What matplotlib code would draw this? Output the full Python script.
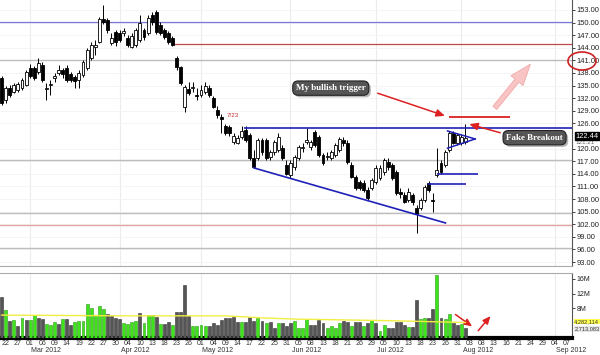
import numpy as np
import pandas as pd
import matplotlib
matplotlib.use('Agg')
import matplotlib.pyplot as plt
import matplotlib.transforms as mtransforms
import matplotlib.patheffects as pe
from matplotlib.patches import Ellipse, FancyArrowPatch

# ---------------- data ----------------
holidays = ['2012-04-06', '2012-05-28', '2012-07-04', '2012-09-03']
start_date, end_date = '2012-02-21', '2012-09-07'

opens = [136.8, 131.6, 134.4, 133.5, 134.0, 134.4, 135.1, 139.2, 139.2, 138.2,
         139.9, 134.2, 135.1, 136.8, 138.0, 138.7, 139.2, 137.8, 137.0, 136.3,
         137.5, 139.2, 141.6, 144.2, 145.4, 150.9, 150.6, 145.1, 147.8, 147.5,
         147.5, 146.3, 144.2, 144.7, 145.9, 148.2, 147.5, 151.8, 152.5, 149.4,
         148.2, 147.5, 146.3, 141.6, 139.4, 129.9, 134.2, 134.4, 132.8, 132.8,
         133.5, 134.4, 132.1, 129.2, 127.5, 125.4, 125.1, 121.6, 121.3, 122.8,
         124.4, 123.2, 117.8, 117.8, 122.1, 122.1, 118.0, 119.2, 119.7, 120.1,
         116.1, 113.7, 115.6, 117.8, 120.1, 121.6, 120.4, 124.0, 122.8, 118.5,
         118.0, 117.8, 118.5, 119.7, 122.1, 121.3, 116.1, 113.2, 112.0, 111.8,
         110.1, 110.6, 112.0, 113.0, 114.4, 116.8, 116.1, 114.4, 109.7, 109.0,
         107.8, 109.0, 105.9, 105.9, 107.8, 111.8, 107.8, 113.7, 116.6, 116.1,
         119.7, 123.7, 121.3, 121.3, 121.6]
highs = [137.3, 134.9, 135.1, 135.6, 135.9, 136.8, 138.7, 140.1, 139.7, 141.6,
         140.6, 135.6, 136.3, 138.0, 139.9, 139.2, 139.9, 138.2, 137.5, 138.7,
         141.1, 144.0, 145.4, 145.9, 151.3, 154.2, 151.1, 147.5, 148.2, 148.2,
         148.7, 147.0, 147.5, 148.7, 151.8, 148.7, 151.8, 152.5, 153.0, 150.1,
         148.7, 148.0, 146.8, 142.1, 139.7, 135.1, 135.9, 135.9, 134.4, 135.1,
         135.9, 135.1, 132.5, 130.1, 128.2, 125.9, 125.6, 123.7, 123.2, 125.4,
         125.4, 123.7, 119.7, 122.5, 122.5, 122.5, 119.7, 122.1, 123.7, 120.9,
         117.3, 117.3, 118.5, 120.9, 121.3, 124.9, 122.1, 124.4, 123.2, 119.0,
         119.2, 119.7, 121.3, 122.8, 122.8, 122.1, 116.8, 113.7, 112.5, 112.5,
         110.9, 113.0, 116.1, 116.1, 117.8, 117.8, 116.6, 114.9, 110.6, 109.7,
         110.6, 109.4, 106.6, 108.2, 111.3, 112.3, 109.4, 120.1, 117.3, 119.7,
         124.2, 124.2, 123.7, 123.5, 125.8]
lows = [130.4, 130.9, 132.3, 133.2, 133.5, 134.0, 134.9, 136.8, 136.3, 137.8,
        135.9, 131.6, 132.8, 135.9, 137.5, 136.8, 135.9, 135.9, 134.4, 134.4,
        137.0, 138.7, 141.1, 142.3, 145.1, 149.7, 147.5, 144.7, 144.4, 145.4,
        146.8, 144.2, 144.0, 144.2, 145.4, 145.9, 147.0, 149.4, 147.3, 147.0,
        146.1, 144.9, 144.4, 138.7, 135.1, 128.7, 132.8, 133.5, 131.6, 132.3,
        133.0, 132.3, 129.7, 127.3, 123.7, 123.2, 123.0, 121.1, 121.1, 122.3,
        121.6, 117.3, 115.4, 117.3, 118.5, 117.3, 117.3, 118.5, 119.2, 117.3,
        113.7, 113.0, 114.9, 117.3, 119.2, 121.1, 119.7, 120.4, 118.0, 116.1,
        117.3, 117.3, 118.0, 119.2, 120.6, 116.3, 113.0, 110.1, 110.1, 109.7,
        107.8, 110.1, 111.6, 112.5, 113.7, 114.9, 112.5, 109.0, 108.2, 107.1,
        107.3, 106.6, 99.9, 105.4, 107.3, 109.7, 104.9, 113.3, 113.9, 115.6,
        119.2, 121.1, 120.9, 120.9, 121.1]
closes = [130.9, 134.4, 132.8, 135.1, 135.4, 136.3, 138.2, 137.3, 136.8, 140.4,
          136.3, 134.4, 135.4, 137.3, 138.7, 137.8, 136.3, 136.3, 136.1, 138.0,
          140.6, 143.5, 144.7, 144.7, 150.9, 150.1, 148.2, 146.3, 145.4, 145.9,
          148.0, 144.7, 146.8, 148.2, 149.9, 146.6, 151.1, 150.1, 147.8, 147.5,
          146.6, 145.4, 144.7, 139.4, 135.6, 134.7, 133.2, 134.6, 132.5, 134.0,
          134.9, 132.8, 129.9, 128.0, 127.1, 123.7, 123.7, 123.0, 122.5, 124.2,
          122.1, 117.8, 115.6, 122.1, 119.2, 117.8, 119.2, 121.6, 122.8, 117.8,
          114.0, 116.6, 118.0, 120.4, 120.4, 122.1, 121.6, 120.9, 118.5, 116.6,
          118.2, 119.2, 120.9, 122.3, 121.3, 116.8, 113.2, 110.6, 110.6, 110.1,
          108.2, 112.5, 115.4, 115.4, 117.3, 115.6, 113.0, 109.4, 109.2, 107.3,
          109.7, 107.3, 104.4, 107.8, 110.9, 110.1, 107.5, 114.9, 114.4, 119.2,
          123.7, 121.3, 123.2, 122.8, 122.44]

volume_m = [11.0, 7.6, 4.6, 4.9, 3.2, 5.4, 4.9, 4.9, 6.2, 5.4,
            5.1, 3.8, 3.5, 4.3, 3.8, 5.1, 5.1, 3.5, 4.3, 4.6,
            4.6, 9.2, 8.1, 6.2, 8.6, 7.8, 6.5, 5.9, 5.4, 5.1,
            4.1, 3.8, 4.3, 4.6, 6.8, 4.1, 6.2, 6.2, 5.7, 3.8,
            3.8, 4.3, 3.5, 7.0, 7.0, 14.3, 5.9, 3.2, 3.2, 3.5,
            3.2, 3.2, 4.1, 3.5, 4.9, 5.4, 5.4, 5.7, 4.3, 4.3,
            4.3, 5.7, 4.6, 5.4, 4.6, 4.1, 4.3, 2.7, 4.1, 4.1,
            3.2, 4.1, 4.6, 2.7, 2.7, 5.1, 3.5, 3.5, 4.9, 4.1,
            2.7, 3.2, 2.7, 4.1, 4.6, 4.3, 3.2, 4.3, 4.3, 3.2,
            4.1, 4.9, 4.1, 1.9, 3.5, 2.7, 2.7, 4.3, 4.3, 3.5,
            3.0, 3.0, 10.3, 5.1, 5.4, 5.4, 7.8, 17.0, 5.4, 5.1,
            6.5, 4.1, 3.5, 3.8, 2.7]
volume_up = [0, 1, 0, 1, 0, 1, 0, 1, 1, 0,
             0, 1, 1, 1, 0, 1, 0, 0, 1, 1,
             1, 1, 1, 1, 1, 1, 0, 0, 0, 0,
             1, 1, 1, 1, 0, 1, 1, 1, 0, 1,
             0, 0, 1, 0, 0, 0, 0, 1, 1, 1,
             1, 0, 0, 0, 0, 0, 0, 0, 0, 1,
             0, 0, 0, 1, 0, 1, 0, 0, 1, 0,
             0, 0, 1, 1, 1, 1, 0, 0, 0, 0,
             1, 1, 1, 1, 0, 0, 1, 0, 0, 1,
             0, 1, 0, 1, 1, 0, 0, 0, 0, 0,
             1, 0, 0, 1, 1, 0, 0, 1, 0, 1,
             1, 0, 0, 1, 0]
vol_ma_idx = [0, 30, 55, 65, 73, 95, 114]
vol_ma = [6.2, 6.0, 6.0, 5.4, 5.1, 4.7, 4.2]

price_ticks = [153, 150, 147, 144, 141, 138, 135, 132, 129, 126, 120, 117, 114, 111, 108, 105, 102, 99, 96, 93]
tick_dates = ['2012-02-22', '2012-02-27', '2012-03-01', '2012-03-06', '2012-03-09', '2012-03-14',
              '2012-03-19', '2012-03-22', '2012-03-27', '2012-03-30', '2012-04-04', '2012-04-10',
              '2012-04-13', '2012-04-18', '2012-04-23', '2012-04-26', '2012-05-01', '2012-05-04',
              '2012-05-09', '2012-05-14', '2012-05-17', '2012-05-22', '2012-05-25', '2012-05-31',
              '2012-06-05', '2012-06-08', '2012-06-13', '2012-06-18', '2012-06-21', '2012-06-26',
              '2012-06-29', '2012-07-05', '2012-07-10', '2012-07-13', '2012-07-18', '2012-07-23',
              '2012-07-26', '2012-07-31', '2012-08-03', '2012-08-08', '2012-08-13', '2012-08-16',
              '2012-08-21', '2012-08-24', '2012-08-29', '2012-09-04', '2012-09-07']
month_labels = ['Mar 2012', 'Apr 2012', 'May 2012', 'Jun 2012', 'Jul 2012', 'Aug 2012', 'Sep 2012']

# chart annotations (levels / trendlines drawn by the author)
level_blue = 150.1
level_red_high = 144.9
level_red_high_start = 42.4
gray_levels = [141.1, 117.3, 104.6, 96.3]
level_red_low = 101.7
resistance = 124.9
resistance_start = 59.6
trend_x, trend_y = [62.0, 109.1], [115.4, 102.3]
support1 = (111.6, 104.9, 114.2)
support2 = (113.9, 106.9, 117.2)
pennant_x = [109.6, 116.4]
pennant_top = [124.2, 122.3]
pennant_bot = [120.1, 122.3]
trigger_level = (127.5, 110.0, 125.0)
last_price = 122.44
other_price = 121.21
vol_ma_last = '4,282,114'
vol_last = '2,713,083'

# ---------------- figure ----------------
W, H = 600, 355
fig = plt.figure(figsize=(W / 100, H / 100), dpi=100)


def fbox(x0, y0, x1, y1):
    return [x0 / W, 1 - y1 / H, (x1 - x0) / W, (y1 - y0) / H]


ax = fig.add_axes(fbox(0, 0, 572, 266))
axv = fig.add_axes(fbox(0, 273, 572, 338))

cal = pd.bdate_range(start_date, end_date, freq='C', holidays=holidays)
pos = {d.strftime('%Y-%m-%d'): i for i, d in enumerate(cal)}
n = len(closes)
idx = np.arange(n)
xlim = (-0.4, 140.2)

o, h, l, c = map(np.array, (opens, highs, lows, closes))

# month start gridlines
month_starts = []
for m in range(3, 10):
    first = [i for i, d in enumerate(cal) if d.month == m][0]
    month_starts.append(first)
for a in (ax, axv):
    for ms in month_starts:
        a.axvline(ms, color='#ececec', lw=0.8, zorder=0)
for t in price_ticks:
    ax.axhline(t, color='#f3f3f3', lw=0.6, zorder=0)

# horizontal levels
ax.axhline(level_blue, color='#7878d8', lw=0.9, zorder=1)
ax.hlines(level_red_high, level_red_high_start, xlim[1], color='#c04848', lw=0.9, zorder=1)
for g in gray_levels:
    ax.axhline(g, color='#bdbdbd', lw=1.0, zorder=1)
ax.axhline(level_red_low, color='#e3a6a6', lw=1.0, zorder=1)

# candles
up = c >= o
ax.vlines(idx, l, h, color='black', lw=0.7, zorder=3)
body = np.maximum(np.abs(c - o), 0.2)
ax.bar(idx, body, bottom=np.minimum(o, c), width=0.72,
       color=np.where(up, 'white', 'black'), edgecolor='black', lw=0.6, zorder=4)

# pattern lines
blue = '#2020b8'
ax.hlines(resistance, resistance_start, xlim[1], color=blue, lw=1.2, zorder=5)
ax.plot(trend_x, trend_y, color=blue, lw=1.2, zorder=5)
ax.hlines(support1[0], support1[1], support1[2], color=blue, lw=1.2, zorder=5)
ax.hlines(support2[0], support2[1], support2[2], color=blue, lw=1.2, zorder=5)
ax.plot(pennant_x, pennant_top, color=blue, lw=1.1, zorder=5)
ax.plot(pennant_x, pennant_bot, color=blue, lw=1.1, zorder=5)
ax.hlines(trigger_level[0], trigger_level[1], trigger_level[2], color='#dd2020', lw=1.3, zorder=5)

ax.set_xlim(*xlim)
ax.set_ylim(92.05, 155.38)
ax.set_xticks([])
ax.yaxis.tick_right()
ax.set_yticks(price_ticks)
ax.set_yticklabels(['%.2f' % t for t in price_ticks])
ax.tick_params(axis='y', labelsize=5.4, pad=1.5, length=2, colors='#222222', width=0.6)
for lab in ax.get_yticklabels():
    lab.set_fontfamily('Liberation Sans')
for s in ('top', 'left'):
    ax.spines[s].set_visible(False)
ax.spines['bottom'].set_color('#aaaaaa')
ax.spines['right'].set_color('#555555')
ax.spines['right'].set_linewidth(0.8)

# right side value flags
tr = mtransforms.blended_transform_factory(ax.transAxes, ax.transData)
ax.text(1.006, 121.5, '%.2f' % other_price, transform=tr, fontsize=4.5, family='Liberation Sans',
        color='#666666', va='center', ha='left', zorder=6, clip_on=False)
ax.text(1.006, 123.0, '%.2f' % last_price, transform=tr, fontsize=5.4, family='Liberation Sans',
        color='white', va='center', ha='left', zorder=7, clip_on=False,
        bbox=dict(boxstyle='square,pad=0.08', fc='black', ec='black'))


# text boxes with drop shadow
def label_box(x, y, text):
    t = ax.text(x, y, text, fontsize=6.5, family='Liberation Serif', weight='bold',
                color='white', ha='center', va='center', zorder=9,
                bbox=dict(boxstyle='round,pad=0.35,rounding_size=0.6', fc='#555555', ec='#222222', lw=0.8))
    t.get_bbox_patch().set_path_effects([pe.withSimplePatchShadow(offset=(1.5, -1.5),
                                                                   shadow_rgbFace='#999999', alpha=0.7)])


label_box(80.9, 134.4, 'My bullish trigger')
label_box(131.0, 122.6, 'Fake Breakout')

red = '#dd2020'
ax.annotate('', xy=(109.6, 127.6), xytext=(91.8, 133.4),
            arrowprops=dict(arrowstyle='-|>,head_length=0.5,head_width=0.22', color=red, lw=1.1),
            zorder=7, annotation_clip=False)
ax.annotate('', xy=(114.3, 126.0), xytext=(123.2, 123.6),
            arrowprops=dict(arrowstyle='-|>,head_length=0.5,head_width=0.22', color=red, lw=1.1),
            zorder=10, annotation_clip=False)
pink = FancyArrowPatch((120.8, 129.2), (130.4, 140.6),
                       arrowstyle='simple,tail_width=0.45,head_width=1.4,head_length=1.9',
                       mutation_scale=8, fc='#f8c4c4', ec='#f2a8a8', lw=0.6, zorder=6)
ax.add_patch(pink)
ax.text(55.2, 127.8, '7/23', fontsize=4.5, color='#cc3333', family='Liberation Sans',
        ha='left', va='center', zorder=6)

fig.add_artist(Ellipse((582 / W, 1 - 61 / H), 28 / W, 18 / H, transform=fig.transFigure,
                       fill=False, ec='#cc2222', lw=1.2))

# ---------------- volume ----------------
green, gray = '#3ee31c', '#555555'
axv.bar(idx, volume_m, width=0.72, color=[green if u else gray for u in volume_up],
        edgecolor=['#2a9a12' if u else '#333333' for u in volume_up], lw=0.4, zorder=3)
axv.plot(vol_ma_idx, vol_ma, color='#f0ee40', lw=1.0, zorder=4)
axv.set_xlim(*xlim)
axv.set_ylim(0, 17.6)
axv.yaxis.tick_right()
axv.set_yticks([8, 12, 16])
axv.set_yticklabels(['8M', '12M', '16M'])
axv.tick_params(axis='y', labelsize=5, pad=1.5, length=2, colors='#222222', width=0.6)
tick_pos = [pos[d] for d in tick_dates]
axv.set_xticks(tick_pos)
axv.set_xticklabels([d[-2:] for d in tick_dates])
axv.tick_params(axis='x', labelsize=5, pad=1.2, length=0, colors='#333333')
for lab in axv.get_xticklabels() + axv.get_yticklabels():
    lab.set_fontfamily('Liberation Sans')
axv.spines['left'].set_visible(False)
axv.spines['top'].set_color('#aaaaaa')
axv.spines['right'].set_color('#555555')
axv.spines['right'].set_linewidth(0.8)
axv.spines['bottom'].set_color('black')
axv.spines['bottom'].set_linewidth(3)

trv = mtransforms.blended_transform_factory(axv.transData, axv.transAxes)
for ms, lab in zip(month_starts, month_labels):
    axv.text(ms + 0.3, -0.19, lab, transform=trv, fontsize=5, family='Liberation Sans',
             color='#333333', ha='left', va='center', clip_on=False)

trv2 = mtransforms.blended_transform_factory(axv.transAxes, axv.transData)
axv.text(1.004, 4.5, vol_ma_last, transform=trv2, fontsize=4.1, family='Liberation Sans',
         color='#333333', va='center', ha='left', clip_on=False,
         bbox=dict(boxstyle='square,pad=0.05', fc='#ffff50', ec='none'))
axv.text(1.004, 2.5, vol_last, transform=trv2, fontsize=4.1, family='Liberation Sans',
         color='#333333', va='center', ha='left', clip_on=False,
         bbox=dict(boxstyle='square,pad=0.05', fc='#e8e8e8', ec='none'))

axv.annotate('', xy=(116.2, 2.7), xytext=(111.0, 6.8),
             arrowprops=dict(arrowstyle='-|>,head_length=0.45,head_width=0.2', color=red, lw=1.1),
             annotation_clip=False)
axv.annotate('', xy=(120.6, 6.5), xytext=(116.7, 1.4),
             arrowprops=dict(arrowstyle='-|>,head_length=0.45,head_width=0.2', color=red, lw=1.1),
             annotation_clip=False)

fig.savefig('out.png', dpi=100)
